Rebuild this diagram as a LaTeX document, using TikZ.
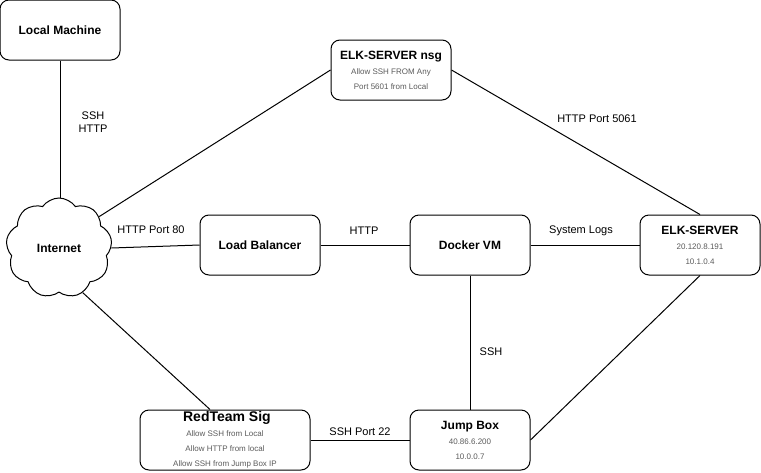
\documentclass[tikz,border=0pt]{standalone}
\usepackage{fontspec}
\setmainfont{Liberation Sans}
\usetikzlibrary{shapes.symbols,calc}
\definecolor{subgray}{RGB}{90,90,90}
\newcommand{\ttl}[1][12]{\fontsize{#1}{15}\selectfont\bfseries}
\newcommand{\sbt}{\fontsize{8}{15}\selectfont\mdseries\color{subgray}}
\tikzset{
  box/.style={draw, line width=1pt, rounded corners=9pt, minimum width=120pt, minimum height=60pt, inner sep=0pt, align=center, font=\fontsize{12}{15}\selectfont\bfseries},
  conn/.style={draw, line width=1pt},
  lbl/.style={font=\fontsize{11}{13}\selectfont, inner sep=0pt, align=center},
}
\begin{document}
\begin{tikzpicture}[x=1pt,y=-1pt]
\useasboundingbox (0,0) rectangle (761,472);
\node[box] (lm) at (60,30) {Local Machine};
\node[box] (nsg) at (391,70) {\ttl ELK-SERVER nsg\\ \sbt Allow SSH FROM Any\\ \sbt Port 5601 from Local};
\node[draw, line width=1pt, cloud, cloud puffs=9, cloud puff arc=110, aspect=1.05, minimum width=106pt, minimum height=100pt, inner sep=0pt, font=\fontsize{12}{15}\selectfont\bfseries] (inet) at (59,248) {Internet};
\node[box] (lb) at (260,245) {Load Balancer};
\node[box] (dock) at (470,245) {Docker VM};
\node[box] (elk) at (700,245) {\ttl ELK-SERVER\\ \sbt 20.120.8.191\\ \sbt 10.1.0.4};
\node[box, minimum width=170pt] (red) at (225,440) {\ttl[14] RedTeam Sig\\ \sbt Allow SSH from Local\\ \sbt Allow HTTP from local\\ \sbt Allow SSH from Jump Box IP};
\node[box] (jump) at (470,440) {\ttl Jump Box\\ \sbt 40.86.6.200\\ \sbt 10.0.0.7};

\draw[conn] (lm) -- (lm |- inet.north);
\draw[conn] (inet.38) -- (nsg.west);
\draw[conn] (nsg.east) -- (elk.north);
\draw[conn] (inet.east) -- (lb.west);
\draw[conn] (lb) -- (dock);
\draw[conn] (dock) -- (elk);
\draw[conn] (dock) -- (jump);
\draw[conn] (inet.-62) -- ($(red.north)+(-15,0)$);
\draw[conn] (red) -- (jump);
\draw[conn] (elk.south) -- (jump.east);

\node[lbl] (l1) at (93,122) {SSH\\HTTP};
\node[lbl] (l2) at (151,230) {HTTP Port 80};
\node[lbl] (l3) at (364,231) {HTTP};
\node[lbl] (l4) at (581,231) {System Logs};
\node[lbl] (l5) at (597,119) {HTTP Port 5061};
\node[lbl] (l6) at (491,352) {SSH};
\node[lbl] (l7) at (360,432) {SSH Port 22};
\end{tikzpicture}
\end{document}
